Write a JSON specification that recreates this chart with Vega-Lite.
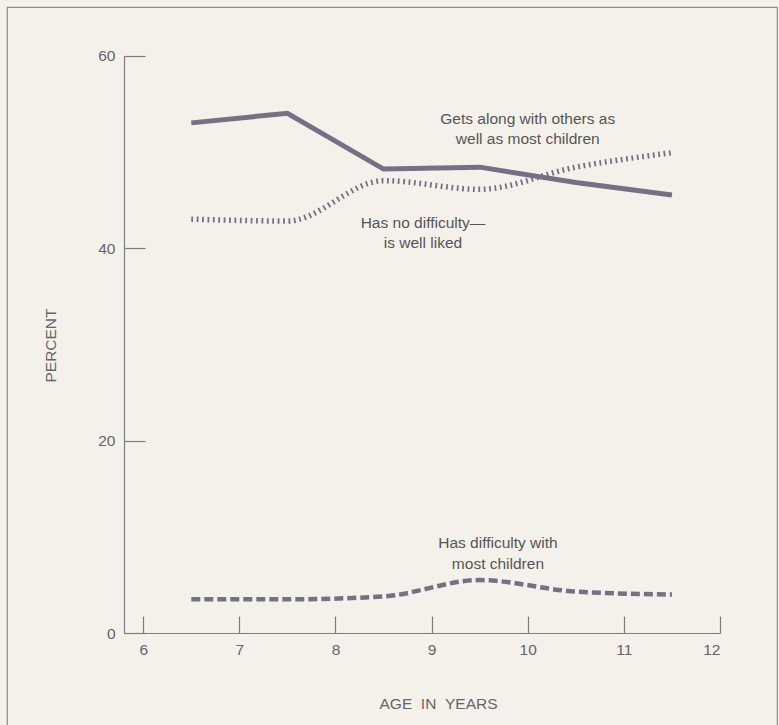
{
  "$schema": "https://vega.github.io/schema/vega-lite/v6.json",
  "width": 770,
  "height": 725,
  "autosize": "none",
  "padding": {"left": 7, "top": 7, "right": 2, "bottom": 0},
  "background": "#f4f1eb",
  "config": {
    "view": {"stroke": "#8c8c8c", "strokeWidth": 1.2},
    "axis": {
      "domainColor": "#7d7d7d",
      "domainWidth": 1.2,
      "tickColor": "#7d7d7d",
      "tickWidth": 1.2,
      "grid": false,
      "labelColor": "#666666",
      "labelFont": "Liberation Sans",
      "labelFontSize": 15.5,
      "titleColor": "#666666",
      "titleFont": "Liberation Sans",
      "titleFontSize": 15.5,
      "titleFontWeight": "normal"
    }
  },
  "datasets": {
    "series": [
      {"age": 6.5, "percent": 53.0, "group": "Gets along with others as well as most children"},
      {"age": 7.5, "percent": 54.0, "group": "Gets along with others as well as most children"},
      {"age": 8.5, "percent": 48.2, "group": "Gets along with others as well as most children"},
      {"age": 9.5, "percent": 48.4, "group": "Gets along with others as well as most children"},
      {"age": 10.5, "percent": 46.8, "group": "Gets along with others as well as most children"},
      {"age": 11.5, "percent": 45.5, "group": "Gets along with others as well as most children"},
      {"age": 6.5, "percent": 43.0, "group": "Has no difficulty—is well liked"},
      {"age": 7.5, "percent": 42.8, "group": "Has no difficulty—is well liked"},
      {"age": 8.5, "percent": 47.0, "group": "Has no difficulty—is well liked"},
      {"age": 9.5, "percent": 46.1, "group": "Has no difficulty—is well liked"},
      {"age": 10.5, "percent": 48.4, "group": "Has no difficulty—is well liked"},
      {"age": 11.5, "percent": 49.9, "group": "Has no difficulty—is well liked"},
      {"age": 6.5, "percent": 3.5, "group": "Has difficulty with most children"},
      {"age": 7.5, "percent": 3.5, "group": "Has difficulty with most children"},
      {"age": 8.5, "percent": 3.8, "group": "Has difficulty with most children"},
      {"age": 9.5, "percent": 5.5, "group": "Has difficulty with most children"},
      {"age": 10.5, "percent": 4.3, "group": "Has difficulty with most children"},
      {"age": 11.5, "percent": 4.0, "group": "Has difficulty with most children"}
    ],
    "labels": [
      {"age": 10.0, "percent": 53.45, "lines": ["Gets along with others as", "well as most children"]},
      {"age": 8.91, "percent": 42.6, "lines": ["Has no difficulty—", "is well liked"]},
      {"age": 9.69, "percent": 9.3, "lines": ["Has difficulty with", "most children"]}
    ]
  },
  "encoding": {
    "x": {
      "field": "age",
      "type": "quantitative",
      "scale": {"domain": [5.8, 12], "range": [117, 713], "nice": false, "zero": false},
      "axis": {
        "title": "AGE\u00a0\u00a0IN\u00a0\u00a0YEARS",
        "values": [6, 7, 8, 9, 10, 11, 12],
        "offset": -99,
        "tickSize": -17,
        "labelPadding": 26,
        "titleX": 431,
        "titleY": 70,
        "titleAlign": "center",
        "titleBaseline": "middle"
      }
    },
    "y": {
      "field": "percent",
      "type": "quantitative",
      "scale": {"domain": [0, 60], "range": [626, 48.5], "nice": false},
      "axis": {
        "title": "PERCENT",
        "values": [0, 20, 40, 60],
        "offset": -117,
        "tickSize": -21,
        "labelPadding": 30,
        "titleX": -74,
        "titleY": 338,
        "titleAngle": 270,
        "titleAlign": "center",
        "titleBaseline": "middle"
      }
    }
  },
  "layer": [
    {
      "data": {"name": "series"},
      "transform": [{"filter": "datum.group === 'Gets along with others as well as most children'"}],
      "mark": {"type": "line", "color": "#737186", "strokeWidth": 5, "interpolate": "linear", "strokeJoin": "miter"}
    },
    {
      "data": {"name": "series"},
      "transform": [{"filter": "datum.group === 'Has no difficulty—is well liked'"}],
      "mark": {"type": "line", "color": "#737186", "strokeWidth": 5.5, "strokeDash": [1.8, 3.6], "interpolate": "monotone"}
    },
    {
      "data": {"name": "series"},
      "transform": [{"filter": "datum.group === 'Has difficulty with most children'"}],
      "mark": {"type": "line", "color": "#737186", "strokeWidth": 4.5, "strokeDash": [9, 4], "interpolate": "monotone"}
    },
    {
      "data": {"name": "labels"},
      "mark": {"type": "text", "font": "Liberation Sans", "fontSize": 15.5, "color": "#555555", "align": "center", "baseline": "middle", "lineHeight": 20.5},
      "encoding": {"text": {"field": "lines"}}
    }
  ]
}
